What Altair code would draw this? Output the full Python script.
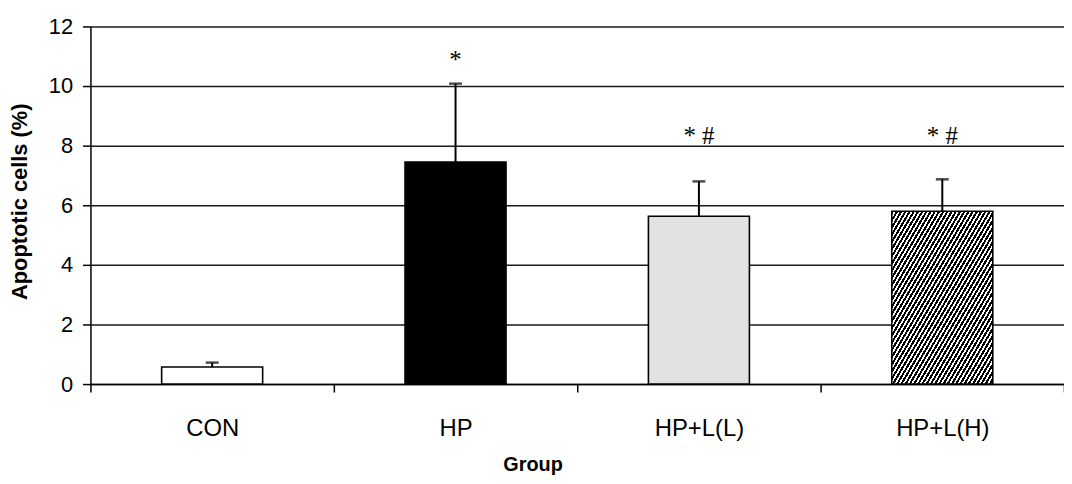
import altair as alt
import pandas as pd

groups = ["CON", "HP", "HP+L(L)", "HP+L(H)"]
means = [0.57, 7.45, 5.63, 5.8]
upper = [0.72, 10.08, 6.8, 6.87]
labels = ["", "*", "* #", "* #"]
label_y = [None, 10.62, 8.05, 8.05]

df = pd.DataFrame({"group": groups, "mean": means, "upper": upper,
                   "label": labels, "label_y": label_y})

# diagonal hatch fill made from a striped linear gradient
stops = []
n = 48
for i in range(n):
    a = i / n
    b = (i + 0.55) / n
    c = (i + 1) / n
    stops += [{"offset": a, "color": "#000000"}, {"offset": b, "color": "#000000"},
              {"offset": b, "color": "#ffffff"}, {"offset": c, "color": "#ffffff"}]
hatch = {"gradient": "linear", "x1": 0, "y1": 0, "x2": 1, "y2": 1, "stops": stops}

fills = {"CON": "#ffffff", "HP": "#000000", "HP+L(L)": "#e2e2e2", "HP+L(H)": hatch}

xenc = alt.X("group:N", sort=groups,
             scale=alt.Scale(paddingInner=0, paddingOuter=0),
             axis=alt.Axis(title="Group", labelAngle=0, tickBand="extent",
                           tickSize=8, labelPadding=37, labelBaseline="middle",
                           labelFontSize=24, labelFont="Liberation Sans",
                           titleFontSize=20, titleFont="Liberation Sans",
                           titleFontWeight="bold", titleX=445, titleY=87,
                           titleBaseline="alphabetic", titleAlign="center"))
yscale = alt.Scale(domain=[0, 12], nice=False)
yaxis = alt.Axis(title="Apoptotic cells (%)", values=[0, 2, 4, 6, 8, 10, 12],
                 grid=True, tickSize=8, labelPadding=10, labelFontSize=22,
                 labelFont="Liberation Sans", titleFontSize=22,
                 titleFont="Liberation Sans", titleFontWeight="bold",
                 titleX=-71, titleY=176, titleAngle=270, titleBaseline="middle",
                 titleAlign="center")

base = alt.Chart(df)

grid = base.mark_rule(opacity=0).encode(x=xenc, y=alt.Y("mean:Q", scale=yscale, axis=yaxis))

bars = []
for g in groups:
    bars.append(
        base.transform_filter(alt.datum.group == g)
        .mark_bar(fill=fills[g], stroke="black", strokeWidth=1.6,
                  width=alt.RelativeBandSize(0.415))
        .encode(x=alt.X("group:N", sort=groups), y=alt.Y("mean:Q", scale=yscale))
    )

err = base.mark_rule(color="black", strokeWidth=2).encode(
    x=alt.X("group:N", sort=groups), y=alt.Y("mean:Q", scale=yscale), y2="upper:Q")
cap = base.mark_tick(color="black", size=13, thickness=2.5).encode(
    x=alt.X("group:N", sort=groups), y=alt.Y("upper:Q", scale=yscale))
txt = base.transform_filter(alt.datum.label != "").mark_text(
    font="Liberation Serif", fontSize=25, baseline="alphabetic", color="black").encode(
    x=alt.X("group:N", sort=groups), y=alt.Y("label_y:Q", scale=yscale), text="label:N")

chart = alt.layer(grid, *bars, err, cap, txt).properties(
    width=980, height=360,
    autosize=alt.AutoSizeParams(type="none"),
    padding={"left": 83, "top": 17, "right": 0, "bottom": 91},
    background="white",
).configure_view(stroke=None).configure_axis(
    domainColor="black", tickColor="black", domainWidth=1.5, tickWidth=1.5,
    gridColor="#1a1a1a", gridWidth=1.5, labelColor="black", titleColor="black"
)

chart.save("out.html", embed_options={"renderer": "svg", "actions": False})
